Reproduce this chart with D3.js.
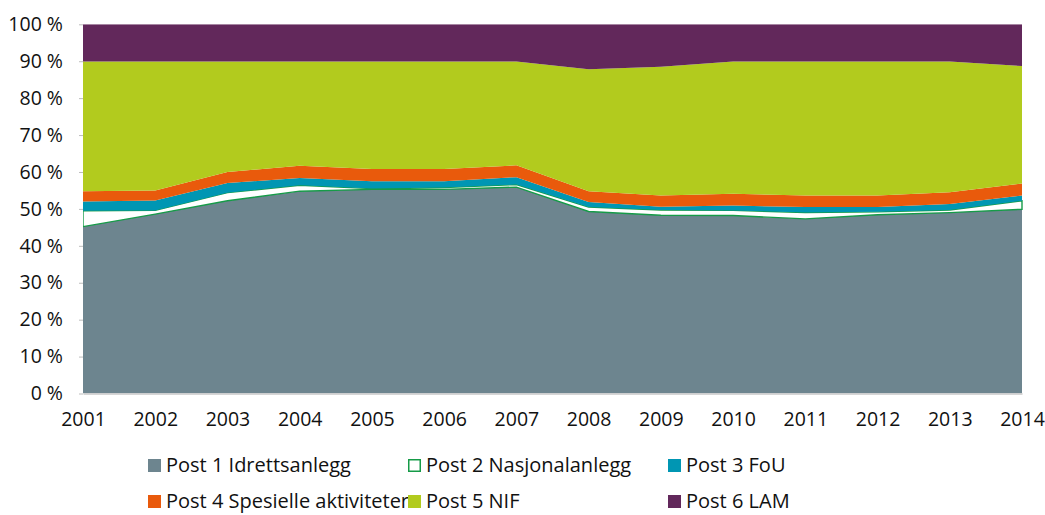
<html>
    <head>
        <script src="https://d3js.org/d3.v7.min.js"></script>
        <style>
            body {
                margin: 0;
                background: #fff;
            }
            svg text {
                font-family: "Open Sans", sans-serif;
                font-size: 19.5px;
                fill: #111;
            }
            svg .legend text {
                font-size: 20px;
            }
        </style>
    </head>
    <body>
        <div id="chart"></div>
    </body>
    <script>
        var years = [2001, 2002, 2003, 2004, 2005, 2006, 2007, 2008, 2009, 2010, 2011, 2012, 2013, 2014];
        // shares in percent, per post
        var post1 = [45.2, 48.6, 52.2, 54.8, 55.3, 55.3, 55.9, 49.3, 48.3, 48.2, 47.3, 48.4, 49.0, 49.9];
        var post2 = [4.3, 1.0, 2.2, 1.6, 0.2, 0.5, 0.7, 1.2, 1.4, 1.4, 1.7, 0.8, 0.7, 2.3];
        var post3 = [2.5, 2.7, 2.6, 2.0, 2.0, 1.7, 2.0, 1.4, 0.9, 1.3, 1.5, 1.3, 1.6, 1.4];
        var post4 = [2.8, 2.7, 3.0, 3.3, 3.3, 3.3, 3.2, 2.9, 3.0, 3.2, 3.1, 3.1, 3.2, 3.3];
        var post5 = [35.1, 34.9, 29.9, 28.2, 29.1, 29.1, 28.1, 33.0, 34.9, 35.8, 36.3, 36.3, 35.4, 31.8];
        var post6 = [10.1, 10.1, 10.1, 10.1, 10.1, 10.1, 10.1, 12.2, 11.5, 10.1, 10.1, 10.1, 10.1, 11.3];
        var seriesNames = ["Post 1 Idrettsanlegg", "Post 2 Nasjonalanlegg", "Post 3 FoU",
                           "Post 4 Spesielle aktiviteter", "Post 5 NIF", "Post 6 LAM"];
        var yTicks = [0, 10, 20, 30, 40, 50, 60, 70, 80, 90, 100];

        var colors = ["#6d858f", "#ffffff", "#0096b3", "#e95a0c", "#b2cb1e", "#62285b"];
        var post2Stroke = "#169b48";

        var width = 1045,
            height = 515;

        var allSeries = [post1, post2, post3, post4, post5, post6];
        var rows = years.map(function(y, i) {
            var r = {year: y};
            seriesNames.forEach(function(n, k) { r[n] = allSeries[k][i]; });
            return r;
        });

        var stack = d3.stack().keys(seriesNames);
        var layers = stack(rows);

        var x = d3.scaleLinear().domain([2001, 2014]).range([83, 1022]);
        var y = d3.scaleLinear().domain([0, 100]).range([393.5, 24.3]);

        var svg = d3.select("#chart")
                  .append("svg")
                  .attr("width", width)
                  .attr("height", height);

        svg.append("clipPath")
           .attr("id", "plotclip")
           .append("rect")
           .attr("x", x(2001))
           .attr("y", y(100))
           .attr("width", x(2014) - x(2001) + 2)
           .attr("height", y(0) - y(100));

        var area = d3.area()
                   .x(function(d) { return x(d.data.year); })
                   .y0(function(d) { return y(d[0]); })
                   .y1(function(d) { return y(d[1]); });

        svg.append("g")
           .attr("clip-path", "url(#plotclip)")
           .selectAll("path")
           .data(layers)
           .enter()
           .append("path")
           .attr("d", area)
           .attr("fill", function(d, i) { return colors[i]; })
           .attr("stroke", function(d, i) { return i == 1 ? post2Stroke : "none"; })
           .attr("stroke-width", 1.4);

        // y axis
        var yAxis = svg.append("g")
           .attr("transform", "translate(" + x(2001) + ",0)")
           .call(d3.axisLeft(y).tickValues(yTicks).tickSize(4).tickPadding(16)
                 .tickFormat(function(d) { return d + " %"; }));
        yAxis.select(".domain").remove();
        yAxis.selectAll(".tick line").attr("stroke", "#bdbdbd");
        yAxis.selectAll("text").attr("font-size", null);

        // x axis
        var xAxis = svg.append("g")
           .attr("transform", "translate(0," + y(0) + ")")
           .call(d3.axisBottom(x).tickValues(years).tickSize(0).tickPadding(19)
                 .tickFormat(d3.format("d")));
        xAxis.select(".domain").attr("stroke", "#c8c8c8").attr("stroke-width", 1.5);
        xAxis.selectAll("text").attr("font-size", null);

        // legend
        var legendX = [148, 408, 668],
            legendY = [472, 508];

        var item = svg.append("g")
           .attr("class", "legend")
           .selectAll("g")
           .data(seriesNames)
           .enter()
           .append("g")
           .attr("transform", function(d, i) {
                return "translate(" + legendX[i % 3] + "," + legendY[Math.floor(i / 3)] + ")";
           });

        item.append("rect")
            .attr("x", function(d, i) { return i == 1 ? 0.75 : 0; })
            .attr("y", function(d, i) { return i == 1 ? -12.25 : -13; })
            .attr("width", function(d, i) { return i == 1 ? 11.5 : 13; })
            .attr("height", function(d, i) { return i == 1 ? 11.5 : 13; })
            .attr("fill", function(d, i) { return colors[i]; })
            .attr("stroke", function(d, i) { return i == 1 ? post2Stroke : "none"; })
            .attr("stroke-width", 1.5);

        item.append("text")
            .attr("x", 18)
            .attr("y", 0)
            .text(function(d) { return d; });
    </script>
</html>
